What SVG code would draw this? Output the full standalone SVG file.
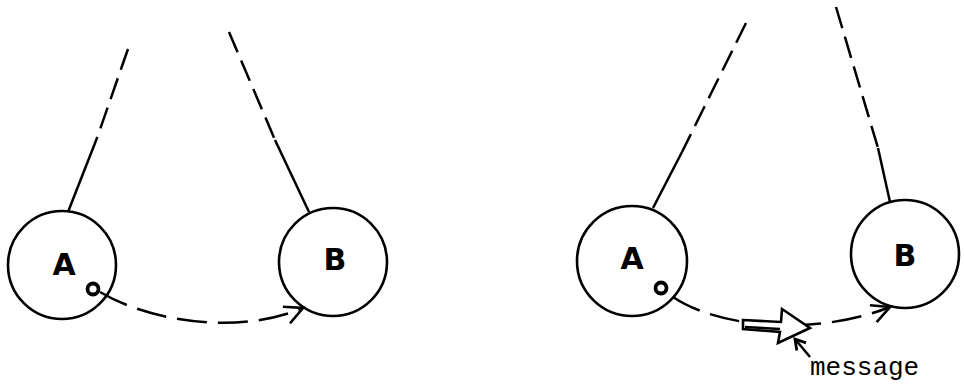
<svg xmlns="http://www.w3.org/2000/svg" width="964" height="388" viewBox="0 0 964 388">
<style>
.node{fill:none;stroke:#000;stroke-width:2.6}
.port{fill:#fff;stroke:#000;stroke-width:3.8}
.lbl{font-family:"DejaVu Sans","Liberation Sans",sans-serif;font-weight:bold;font-size:30px;text-anchor:middle;fill:#000}
.solid{fill:none;stroke:#000;stroke-width:2.5}
.dash{fill:none;stroke:#000;stroke-width:2.5;stroke-dasharray:22 9}
.cdash{fill:none;stroke:#000;stroke-width:2.5;stroke-dasharray:30 11}
.msg{font-family:"Liberation Mono","Courier New",monospace;font-size:26px;fill:#000}
</style>
<defs>
<marker id="v" markerUnits="userSpaceOnUse" orient="auto" refX="0" refY="0" overflow="visible">
<path d="M-18,-9 L0,0 L-18,9" fill="none" stroke="#000" stroke-width="2.6"/>
</marker>
<marker id="vs" markerUnits="userSpaceOnUse" orient="auto" refX="0" refY="0" overflow="visible">
<path d="M-10,-6 L0,0 L-10,6" fill="none" stroke="#000" stroke-width="2.8"/>
</marker>
</defs>
<g id="connectors">
<path class="solid" d="M68,212 L97,138"/>
<path class="dash" d="M128,49 L97,138"/>
<path class="solid" d="M309,212 L275,140"/>
<path class="dash" d="M229,32 L275,140"/>
<path class="solid" d="M653,208 L682,152"/>
<path class="dash" d="M746,23 L682,152"/>
<path class="solid" d="M890,202 L878,148"/>
<path class="dash" d="M836,7 L878,148"/>
<path class="cdash" d="M100,292 C150,322 240,335 303,308" marker-end="url(#v)"/>
<path class="cdash" d="M673,297 C722,330 820,335 890,307" stroke-dasharray="22 12 22 12 22 14 60 12 50" marker-end="url(#v)"/>
</g>
<g id="nodeA1">
<circle class="node" cx="62" cy="265" r="54"/>
<text class="lbl" x="64" y="275">A</text>
<circle class="port" cx="93" cy="289" r="5.5"/>
</g>
<g id="nodeB1">
<circle class="node" cx="333" cy="262" r="54"/>
<text class="lbl" x="335" y="270">B</text>
</g>
<g id="nodeA2">
<circle class="node" cx="632" cy="261" r="55"/>
<text class="lbl" x="632" y="269">A</text>
<circle class="port" cx="661" cy="288" r="5.5"/>
</g>
<g id="nodeB2">
<circle class="node" cx="905" cy="254" r="54"/>
<text class="lbl" x="905" y="266">B</text>
</g>
<g id="message">
<polygon points="743,320 781,322 782,309 810,328 778,343 780,332 743,329" fill="#fff" stroke="#000" stroke-width="2.6" stroke-linejoin="miter"/>
<path class="solid" d="M745,327 L780,329" stroke-width="3"/>
<path class="solid" d="M810,357 L795,339" stroke-width="2.8" marker-end="url(#vs)"/>
<text class="msg" x="810" y="375">message</text>
</g>
</svg>
